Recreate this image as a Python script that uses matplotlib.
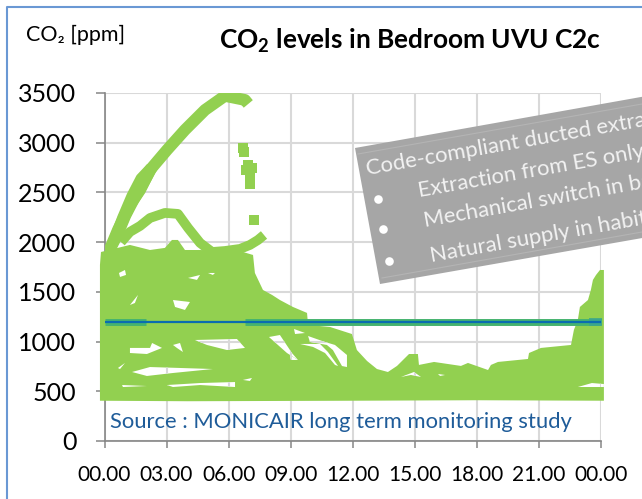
import matplotlib
matplotlib.use("Agg")
import matplotlib.pyplot as plt
from matplotlib.lines import Line2D
from matplotlib.patches import Polygon

plt.rcParams['font.family'] = ['Lato', 'DejaVu Sans']
plt.rcParams['mathtext.default'] = 'regular'

GREEN = '#92d050'
GRID = '#d9d9d9'

x_ticks = [0, 3, 6, 9, 12, 15, 18, 21, 24]
x_labels = ['00.00', '03.00', '06.00', '09.00', '12.00', '15.00', '18.00', '21.00', '00.00']
y_ticks = [0, 500, 1000, 1500, 2000, 2500, 3000, 3500]

# top edge of the solid cloud of points
upper_h = [-0.22, -0.17, 1.23, 2.2, 2.92, 3.26, 3.55, 3.89, 4.62, 6.69, 7.18, 7.27, 7.66, 8.1, 8.48,
           9.11, 9.79, 9.84, 10.9, 11.96, 12.2, 12.69, 13.17, 13.7, 14.14, 14.43, 14.72, 15.15, 15.2,
           15.93, 17.23, 17.57, 18.54, 18.68, 19.02, 20.47, 20.52, 21.1, 22.55, 22.69, 22.88, 22.98,
           23.37, 23.51, 23.61, 23.76, 23.95, 24.14]
upper_ppm = [1770, 1901, 1972, 1921, 1942, 2022, 2022, 1921, 1921, 1901, 1871, 1690, 1519, 1469, 1418,
             1348, 1288, 1167, 1147, 1076, 915, 805, 724, 694, 755, 815, 875, 875, 765,
             795, 755, 785, 714, 765, 795, 825, 885, 936, 966, 1117, 1217, 1348,
             1418, 1519, 1620, 1670, 1720, 1720]
lower_h = [-0.22, 4.0, 12.0, 18.0, 24.14]
lower_ppm = [405, 400, 405, 410, 405]

# white gaps left in the cloud
gaps = [
    ([0.70, 0.99, 1.04, 0.75], [1690, 1720, 1670, 1650]),
    ([3.31, 4.13, 3.89, 3.41], [1418, 1398, 1318, 1348]),
    ([1.23, 1.62, 1.47], [1368, 1469, 1388]),
    ([4.04, 4.62, 4.47], [1640, 1670, 1620]),
    ([5.0, 5.34, 5.24], [1690, 1690, 1670]),
    ([1.23, 2.2, 2.3, 2.78, 2.05, 1.23], [936, 936, 986, 936, 875, 885]),
    ([3.31, 3.65, 3.79, 3.5], [966, 986, 895, 936]),
    ([4.37, 6.4, 6.79, 5.92, 4.95], [1016, 1026, 936, 915, 966]),
    ([7.95, 8.48, 9.06, 9.35, 8.82], [1046, 1066, 885, 815, 885]),
    ([1.33, 2.2, 5.24, 3.31, 2.05], [694, 744, 724, 684, 654]),
    ([0.85, 2.05, 0.89], [563, 553, 543]),
    ([3.02, 4.62, 6.31, 6.31, 4.62, 3.31], [563, 583, 593, 543, 563, 543]),
    ([0.65, 0.99, 0.75], [734, 785, 724]),
    ([6.69, 7.13, 7.03], [614, 634, 604]),
    ([9.16, 9.69, 9.21], [1127, 1086, 1076]),
    ([9.84, 10.66, 11.14, 11.72, 11.72, 11.48, 11.04, 10.75, 9.93], [1056, 996, 966, 865, 744, 754, 915, 966, 996]),
    ([9.45, 10.42, 10.8, 11.29, 11.14, 10.66, 10.08], [976, 976, 895, 754, 765, 885, 946]),
    ([8.96, 9.35, 9.01], [865, 815, 815]),
    ([14.33, 14.96, 15.3, 14.81], [644, 694, 644, 664]),
    ([16.12, 16.46, 16.22], [674, 664, 654]),
    ([22.88, 23.56, 24.14, 24.14], [543, 583, 573, 543]),
]

# the night traces that rise out of the cloud
arc_high_h = [0.1, 0.65, 1.23, 1.72, 2.2, 3.02, 3.89, 4.86, 5.82, 6.79, 6.95]
arc_high_ppm = [1850, 2123, 2374, 2525, 2726, 2927, 3129, 3330, 3471, 3430, 3390]
arc_side_h = [0.3, 0.7, 1.1, 1.5, 1.9, 2.4]
arc_side_ppm = [1900, 2060, 2260, 2420, 2560, 2750]
arc_inner_h = [0.05, 0.35, 0.8, 1.25, 1.7, 2.2]
arc_inner_ppm = [1800, 2000, 2250, 2470, 2650, 2760]
arc_low_h = [0.8, 1.23, 1.72, 2.2, 2.92, 3.55, 4.04, 4.62, 5.2, 5.82, 6.55, 7.03, 7.42, 7.71]
arc_low_ppm = [2000, 2103, 2163, 2243, 2294, 2284, 2143, 1992, 1901, 1911, 1932, 1972, 2022, 2072]
loose_h = [6.69, 6.74, 6.94, 6.84, 7.13, 7.03, 7.03, 7.25]
loose_ppm = [2948, 2907, 2777, 2726, 2746, 2646, 2585, 2223]

limit_ppm = 1200
limit_h = [0, 24]
halo_left_h = [0, 2]
halo_right_h = [6.8, 24]
halo_end_h = [23.4, 24.05]

note_title = 'Code-compliant ducted extraction'
note_items = ['Extraction from ES only', 'Mechanical switch in bathroom', 'Natural supply in habitable rooms']


def px(x, y):
    return x / 642, 1 - y / 499


fig = plt.figure(figsize=(6.42, 4.99), dpi=100, facecolor='white')
ax = fig.add_axes([104.5 / 642, 58 / 499, 496.5 / 642, 348 / 499])
ax.set_xlim(0, 24)
ax.set_ylim(0, 3500)

ax.set_xticks(x_ticks)
ax.set_xticklabels(x_labels, fontsize=15)
ax.set_yticks(y_ticks)
ax.tick_params(axis='y', labelsize=18, length=6.5, width=1.1, color='#868686', pad=13.8)
ax.tick_params(axis='x', length=5, width=1.1, color='#868686', pad=12)
ax.grid(True, color=GRID, lw=1.5)
ax.set_axisbelow(True)
for side in ['top', 'right']:
    ax.spines[side].set_visible(False)
for side in ['left', 'bottom']:
    ax.spines[side].set_color('#868686')
    ax.spines[side].set_linewidth(1.2)

ax.fill(upper_h + lower_h[::-1], upper_ppm + lower_ppm[::-1], color=GREEN, lw=0, clip_on=False, zorder=3)
for gap_h, gap_ppm in gaps:
    gap = ax.fill(gap_h, gap_ppm, color='white', lw=0, clip_on=False, zorder=3.1)[0]
    # grid has to stay visible through the gap
    for tick in x_ticks:
        ax.axvline(tick, color=GRID, lw=1.5, zorder=3.15).set_clip_path(gap)
    for tick in y_ticks:
        ax.axhline(tick, color=GRID, lw=1.5, zorder=3.15).set_clip_path(gap)

for h, ppm, width in [(arc_high_h, arc_high_ppm, 8.5), (arc_side_h, arc_side_ppm, 5.5),
                      (arc_inner_h, arc_inner_ppm, 5.5), (arc_low_h, arc_low_ppm, 7)]:
    ax.plot(h, ppm, color=GREEN, lw=width, solid_capstyle='butt', solid_joinstyle='round', zorder=3.2)
ax.scatter(loose_h, loose_ppm, marker='s', s=50, color=GREEN, linewidths=0, zorder=3.2)

ax.plot(halo_left_h, [limit_ppm] * 2, color='#45b36f', lw=5, solid_capstyle='butt', zorder=4)
ax.plot(halo_right_h, [limit_ppm] * 2, color='#45b36f', lw=5, solid_capstyle='butt', zorder=4)
ax.plot(halo_end_h, [limit_ppm] * 2, color='#3aa68c', lw=5.5, solid_capstyle='butt', clip_on=False, zorder=4)
ax.plot(limit_h, [limit_ppm] * 2, color='#0a6cb0', lw=1.6, solid_capstyle='butt', zorder=5)

ax.text(0.27, 190, 'Source : MONICAIR long term monitoring study', color='#1f5c99', fontsize=15.8,
        va='center', ha='left', zorder=6)

# frame of the slide, cut off on the right and at the bottom
fig.add_artist(Line2D([6.5 / 642, 6.5 / 642, 1], [0, 1 - 6.5 / 499, 1 - 6.5 / 499], color='#6a98d4', lw=1.5))

fig.text(*px(219, 49), 'CO$_{2}$ levels in Bedroom UVU C2c', fontsize=18.9, fontweight='bold', ha='left', va='baseline')
fig.text(*px(26, 41), 'CO₂ [ppm]', fontsize=15.5, ha='left', va='baseline')

# grey note, tilted and running off the slide
fig.add_artist(Polygon([px(355, 148), px(725, 82), px(745, 220), px(380, 284)], closed=True, fc='#a6a6a6', ec='none', zorder=7))
fig.add_artist(Line2D(*zip(px(358, 154), px(642, 104)), color='#b4b4b4', lw=0.8, zorder=7))
fig.add_artist(Line2D(*zip(px(382, 278), px(642, 232)), color='#b4b4b4', lw=0.8, zorder=7))

note_style = dict(color='#f2f2f2', fontsize=15.9, rotation=10, rotation_mode='anchor', ha='left', va='baseline', zorder=8)
fig.text(*px(367, 175), note_title, **note_style)
for (tx, ty), item in zip([(419, 197), (425, 227), (431, 262)], note_items):
    fig.text(*px(tx, ty), item, **note_style)
for bx, by in [(378, 199), (383, 229), (389, 261)]:
    fig.add_artist(Line2D([bx / 642], [1 - by / 499], marker='o', ms=6.2, color='white', mew=0, zorder=8))

fig.savefig('out.png', dpi=100)
